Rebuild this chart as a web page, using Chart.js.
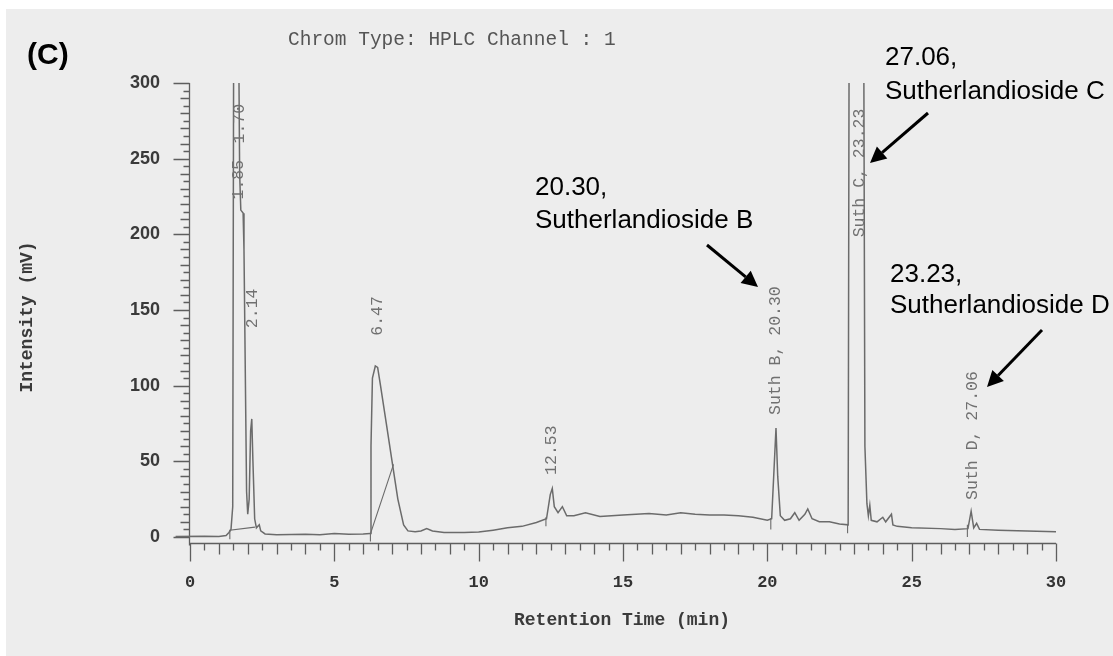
<!DOCTYPE html>
<html><head><meta charset="utf-8">
<script src="https://cdn.jsdelivr.net/npm/chart.js@4/dist/chart.umd.min.js"></script>
<style>html,body{margin:0;padding:0;background:#fff;}canvas{display:block;}</style>
</head><body>
<canvas id="c" width="1113" height="656"></canvas>
<script>
// ---- data ----
const timeMin = [-0.5,0.5,1.0,1.25,1.35,1.42,1.48,1.52,1.66,1.72,1.76,1.84,1.87,1.96,2.00,2.05,2.10,2.14,2.18,2.24,2.30,2.40,2.45,2.6,3.0,4.0,4.5,5.0,5.5,6.0,6.24,6.27,6.32,6.42,6.50,6.60,6.80,7.00,7.20,7.40,7.55,7.8,8.0,8.2,8.4,8.8,9.5,10.0,10.5,11.0,11.5,12.0,12.35,12.48,12.55,12.62,12.75,12.9,13.05,13.3,13.7,14.2,15.0,15.9,16.5,17.0,17.5,18.0,18.5,19.0,19.5,20.0,20.15,20.22,20.30,20.36,20.45,20.6,20.8,20.95,21.1,21.3,21.4,21.55,21.8,22.15,22.5,22.8,22.84,23.33,23.38,23.45,23.5,23.55,23.6,23.8,24.0,24.1,24.3,24.35,24.5,25.0,26.0,26.5,26.95,27.06,27.15,27.25,27.35,28.0,29.0,30.0];
const signalMv = [0.3,0.5,0.3,1,3,5,20,400,400,240,216,214,190,30,15,25,70,78,50,12,6,8,4,2,1.5,1.8,1.5,2.3,1.8,2,2.2,60,105,113,112,100,75,50,25,8,4,3.5,4,5.5,4,3,3,3.2,4.5,6,7,9.5,12,28,32,20,16,20,14,14,16,13.5,14.5,15.5,14.5,16,15,14.5,14.5,14,13,11,12,40,72,40,14,11,12,16,11,15,18.5,12,10,10,8.5,8,400,400,60,22,14,21,11,10,13,10,15,8,7,6,5.5,5,5.5,17,6,9,5,4.5,4,3.5];
// integration baselines / peak markers
const baseSeg1 = [[1.38,-1.5],[1.38,4.5],[2.25,6.5]];
const baseSeg2 = [[6.25,-3],[6.25,2],[7.05,48]];
const markSeg1 = [[12.33,7],[12.33,13]];
const markSeg2 = [[20.12,5],[20.12,12.5]];
const markSeg3 = [[22.78,2.5],[22.78,8]];
const markSeg4 = [[26.93,0],[26.93,8]];
// peak labels
const peakText = ['1.70','1.85','2.14','6.47','12.53','Suth B, 20.30','Suth C, 23.23','Suth D, 27.06'];
const peakTime = [1.72,1.68,2.16,6.49,12.52,20.28,23.19,27.1];
// tick values
const xTickValues = [0,5,10,15,20,25,30];
const yTickValues = [0,50,100,150,200,250,300];

const toPts = a => a.map(p => ({x:p[0], y:p[1]}));
const LINE = '#6b6b6b';

const paper = {
  id:'paper',
  beforeDraw(chart){
    const c = chart.ctx; c.save();
    c.fillStyle='#ffffff'; c.fillRect(0,0,chart.width,chart.height);
    c.fillStyle='#ededed'; c.fillRect(6,9,chart.width-6,chart.height-9);
    c.restore();
  }
};

const ruler = {
  id:'ruler',
  beforeDatasetsDraw(chart){
    const {ctx, scales:{x,y}, chartArea:a} = chart;
    ctx.save();
    ctx.strokeStyle='#5e5e5e'; ctx.lineWidth=1.3;
    ctx.beginPath();
    const x0 = Math.round(a.left)-0.5, yb = Math.round(a.bottom)+0.5;
    ctx.moveTo(x0, y.getPixelForValue(300)); ctx.lineTo(x0, yb+2);
    ctx.moveTo(x0, yb); ctx.lineTo(x.getPixelForValue(30), yb);
    for(let v=0; v<=300; v+=5){
      const py = Math.round(y.getPixelForValue(v))+0.5;
      const len = v%50===0?16:(v%10===0?9:6);
      ctx.moveTo(x0-len,py); ctx.lineTo(x0,py);
    }
    for(let k=0;k<=60;k++){
      const t=k/2;
      const px = Math.round(x.getPixelForValue(t))+0.5;
      const len = k%10===0?18:(k%2===0?11:7);
      ctx.moveTo(px,yb); ctx.lineTo(px,yb+len);
    }
    ctx.stroke(); ctx.restore();
  }
};

const texts = {
  id:'texts',
  afterDatasetsDraw(chart){
    const {ctx, scales:{x,y}} = chart;
    ctx.save();
    const levels=[260,223,138,133,41,80.6,198,24.5];
    ctx.fillStyle='#707070'; ctx.font='16.5px "Liberation Mono", monospace';
    ctx.textAlign='left'; ctx.textBaseline='middle';
    peakText.forEach((s,i)=>{
      ctx.save();
      ctx.translate(x.getPixelForValue(peakTime[i]), y.getPixelForValue(levels[i]));
      ctx.rotate(-Math.PI/2); ctx.fillText(s,0,0); ctx.restore();
    });
    ctx.textBaseline='alphabetic';
    ctx.fillStyle='#555'; ctx.font='19.5px "Liberation Mono", monospace';
    ctx.fillText('Chrom Type: HPLC Channel : 1', 288, 45);
    ctx.fillStyle='#000'; ctx.font='bold 30px "Liberation Sans", Arial, sans-serif';
    ctx.fillText('(C)', 27, 64);
    ctx.fillStyle='#3a3a3a'; ctx.font='bold 18px "Liberation Mono", monospace';
    ctx.textAlign='center'; ctx.textBaseline='middle';
    ctx.fillText('Retention Time (min)', 622, 620);
    ctx.save(); ctx.translate(27,317); ctx.rotate(-Math.PI/2);
    ctx.fillText('Intensity (mV)',0,0); ctx.restore();
    ctx.textAlign='left'; ctx.textBaseline='alphabetic';
    ctx.fillStyle='#000'; ctx.font='26px "Liberation Sans", Arial, sans-serif';
    ctx.fillText('20.30,',535,195); ctx.fillText('Sutherlandioside B',535,228);
    ctx.fillText('27.06,',885,65); ctx.fillText('Sutherlandioside C',885,99);
    ctx.fillText('23.23,',890,282); ctx.fillText('Sutherlandioside D',890,313);
    const arrow=(x1,y1,x2,y2)=>{
      const ang=Math.atan2(y2-y1,x2-x1), hl=16, hw=8;
      const bx=x2-hl*Math.cos(ang), by=y2-hl*Math.sin(ang);
      ctx.strokeStyle='#000'; ctx.lineWidth=3;
      ctx.beginPath(); ctx.moveTo(x1,y1); ctx.lineTo(bx,by); ctx.stroke();
      ctx.beginPath(); ctx.moveTo(x2,y2);
      ctx.lineTo(bx+hw*Math.sin(ang), by-hw*Math.cos(ang));
      ctx.lineTo(bx-hw*Math.sin(ang), by+hw*Math.cos(ang));
      ctx.closePath(); ctx.fillStyle='#000'; ctx.fill();
    };
    arrow(707,245,758,287);
    arrow(928,113,870,163);
    arrow(1042,330,987,387);
    ctx.restore();
  }
};

const thin = (pts) => ({data: toPts(pts), borderColor:LINE, borderWidth:1.1, pointRadius:0, tension:0, clip:{left:20,top:0,right:2,bottom:8}});

new Chart(document.getElementById('c'), {
  type:'line',
  data:{datasets:[
    {data: timeMin.map((t,i)=>({x:t,y:signalMv[i]})), borderColor:LINE, borderWidth:1.5, pointRadius:0, tension:0, clip:{left:20,top:0,right:2,bottom:8}},
    thin(baseSeg1), thin(baseSeg2), thin(markSeg1), thin(markSeg2), thin(markSeg3), thin(markSeg4)
  ]},
  options:{
    responsive:false, animation:false, devicePixelRatio:1, events:[],
    layout:{padding:{left:0,right:57,top:83,bottom:0}},
    plugins:{legend:{display:false}, tooltip:{enabled:false}},
    scales:{
      x:{type:'linear', min:0, max:30,
        grid:{display:false, drawTicks:false}, border:{display:false},
        afterBuildTicks(s){ s.ticks = xTickValues.map(v=>({value:v})); },
        afterFit(s){ s.height = 113; },
        ticks:{padding:30, color:'#333', font:{family:'"Liberation Mono", monospace', size:17, weight:'bold'}}
      },
      y:{type:'linear', min:-4, max:300,
        grid:{display:false, drawTicks:false}, border:{display:false},
        afterBuildTicks(s){ s.ticks = yTickValues.map(v=>({value:v})); },
        afterFit(s){ s.width = 190; },
        ticks:{padding:30, color:'#3a3a3a', font:{family:'"Liberation Sans", Arial, sans-serif', size:18, weight:'bold'}}
      }
    }
  },
  plugins:[paper, ruler, texts]
});
</script>
</body></html>
